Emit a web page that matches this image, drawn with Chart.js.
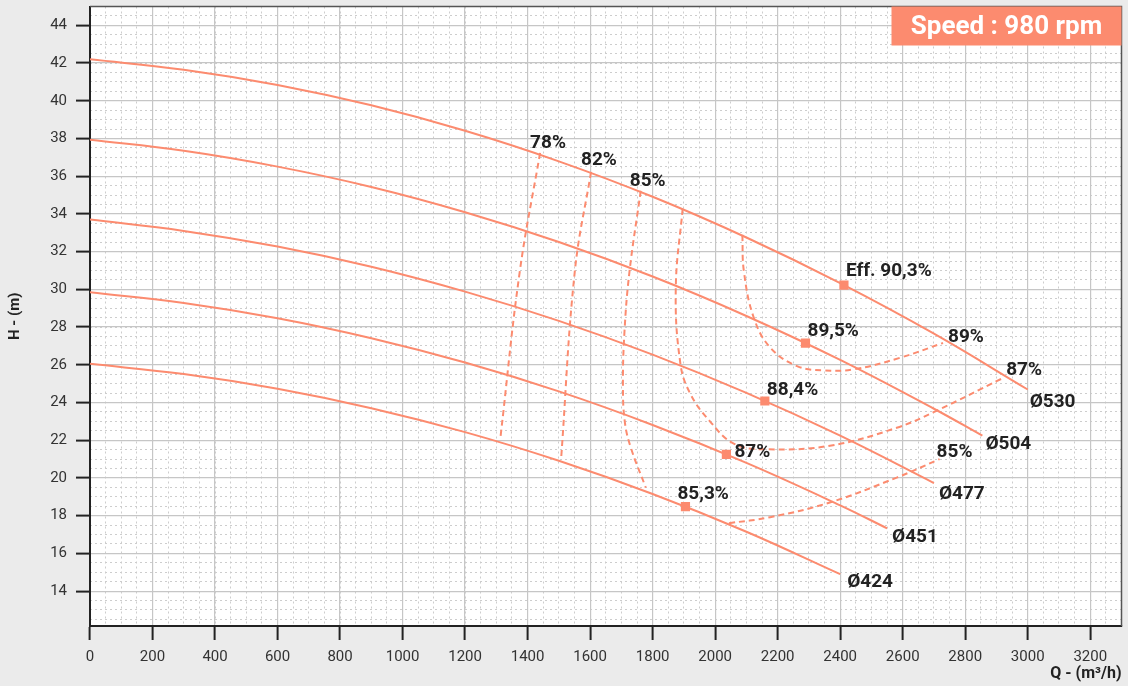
<!DOCTYPE html>
<html>
<head>
<meta charset="utf-8">
<script src="https://cdn.jsdelivr.net/npm/chart.js@4.4.1/dist/chart.umd.min.js"></script>
<style>
  html, body { margin: 0; padding: 0; background: #ebebeb; }
  #wrap { width: 1128px; height: 686px; }
</style>
</head>
<body>
<div id="wrap"><canvas id="pumpChart" width="1128" height="686"></canvas></div>
<script>
// H-Q curves, one per impeller diameter
const diameters = ['Ø530', 'Ø504', 'Ø477', 'Ø451', 'Ø424'];

const q530 = [0, 300, 600, 900, 1200, 1500, 1800, 2100, 2400, 2700, 3000];
const h530 = [42.2, 41.65, 40.84, 39.76, 38.41, 36.79, 34.91, 32.75, 30.33, 27.65, 24.69];

const q504 = [0, 300, 600, 900, 1200, 1500, 1800, 2100, 2400, 2700, 2855];
const h504 = [37.93, 37.35, 36.51, 35.43, 34.09, 32.51, 30.68, 28.59, 26.26, 23.67, 22.24];

const q477 = [0, 300, 600, 900, 1200, 1500, 1800, 2100, 2400, 2700];
const h477 = [33.7, 33.1, 32.27, 31.2, 29.88, 28.33, 26.54, 24.51, 22.24, 19.73];

const q451 = [0, 300, 600, 900, 1200, 1500, 1800, 2100, 2400, 2550];
const h451 = [29.85, 29.28, 28.47, 27.41, 26.12, 24.59, 22.81, 20.8, 18.55, 17.33];

const q424 = [0, 300, 600, 900, 1200, 1500, 1800, 2100, 2400];
const h424 = [26.05, 25.51, 24.73, 23.7, 22.43, 20.91, 19.15, 17.15, 14.9];

// best efficiency points
const effQ = [2412, 2289, 2159, 2036, 1905];
const effH = [30.23, 27.15, 24.08, 21.25, 18.48];
const effLabels = ['Eff. 90,3%', '89,5%', '88,4%', '87%', '85,3%'];

// iso-efficiency curves (dashed)
const isoLabels = ['78%', '82%', '85%', '87%', '89%', '85%'];
const iso78Q = [1440, 1375, 1313];
const iso78H = [37.24, 30.95, 22.13];
const iso82Q = [1603, 1551, 1507];
const iso82H = [36.23, 30.95, 20.97];
const iso85aQ = [1762, 1726, 1710, 1705, 1711, 1730, 1778];
const iso85aH = [35.23, 30.95, 27.78, 24.9, 22.98, 21.62, 19.49];
const iso87Q = [1896, 1874, 1889, 1921, 1982, 2061, 2166, 2367, 2581, 2708, 2915];
const iso87H = [34.28, 30.05, 26.04, 24.45, 23.03, 21.81, 21.52, 21.71, 22.66, 23.56, 25.25];
const iso89Q = [2087, 2092, 2124, 2177, 2262, 2347, 2443, 2591, 2729];
const iso89H = [32.89, 30.95, 28.48, 26.9, 25.93, 25.71, 25.76, 26.37, 27.16];
const iso85bQ = [2044, 2176, 2367, 2581, 2718];
const iso85bH = [17.6, 17.92, 18.7, 20.02, 21.0];

const speedLabel = 'Speed : 980 rpm';

const salmon = '#fc8b6f';
const textColor = '#222';

function pts(qs, hs) {
    return qs.map((q, i) => ({x: q, y: hs[i]}));
}

const hqCurves = [[q530, h530], [q504, h504], [q477, h477], [q451, h451], [q424, h424]];
const isoCurves = [[iso78Q, iso78H], [iso82Q, iso82H], [iso85aQ, iso85aH], [iso87Q, iso87H], [iso89Q, iso89H], [iso85bQ, iso85bH]];
// which end of each iso curve carries its label
const isoAnchor = ['first', 'first', 'first', 'last', 'last', 'last'];

const datasets = [];
hqCurves.forEach(c => {
    datasets.push({
        data: pts(c[0], c[1]), showLine: true, borderColor: salmon, borderWidth: 2,
        pointRadius: 0, tension: 0.4, fill: false
    });
});
isoCurves.forEach(c => {
    datasets.push({
        data: pts(c[0], c[1]), showLine: true, borderColor: salmon, borderWidth: 2,
        borderDash: [6, 4], pointRadius: 0, tension: 0.4, fill: false
    });
});
datasets.push({
    data: pts(effQ, effH), showLine: false, pointStyle: 'rect', pointRadius: 6.5,
    backgroundColor: salmon, borderColor: salmon, borderWidth: 0
});

// label offsets in px from their anchor point
const diaOffsets = [[2, 17], [3, 13], [5, 16], [5, 14], [7, 13]];
const effOffsets = [[2, -9], [2, -7], [2, -6], [8, 3], [-8, -8]];
const isoOffsets = [[-10, -5], [-10, -7], [-11, -5], [5, -4], [5, -1], [-3, -2]];

const decorPlugin = {
    id: 'decor',
    beforeDraw(chart) {
        const {ctx, chartArea: a} = chart;
        ctx.save();
        ctx.fillStyle = '#ebebeb';
        ctx.fillRect(0, 0, chart.width, chart.height);
        ctx.fillStyle = '#ffffff';
        ctx.fillRect(a.left, a.top, a.right - a.left, a.bottom - a.top);
        ctx.restore();
    },
    beforeDatasetsDraw(chart) {
        const {ctx, chartArea: a} = chart;
        ctx.save();
        ctx.strokeStyle = '#555';
        ctx.lineWidth = 1.5;
        ctx.beginPath();
        ctx.moveTo(a.left, a.top);
        ctx.lineTo(a.right, a.top);
        ctx.lineTo(a.right, a.bottom);
        ctx.stroke();
        ctx.restore();
    },
    afterDatasetsDraw(chart) {
        const {ctx, chartArea: a} = chart;
        const xs = chart.scales.x, ys = chart.scales.y;
        ctx.save();
        ctx.fillStyle = textColor;
        ctx.font = 'bold 19px Roboto';
        ctx.textAlign = 'left';
        ctx.textBaseline = 'alphabetic';

        hqCurves.forEach((c, i) => {
            const n = c[0].length - 1;
            const px = xs.getPixelForValue(c[0][n]);
            const py = ys.getPixelForValue(c[1][n]);
            ctx.fillText(diameters[i], px + diaOffsets[i][0], py + diaOffsets[i][1]);
        });
        effQ.forEach((q, i) => {
            const px = xs.getPixelForValue(q);
            const py = ys.getPixelForValue(effH[i]);
            ctx.fillText(effLabels[i], px + effOffsets[i][0], py + effOffsets[i][1]);
        });
        isoCurves.forEach((c, i) => {
            const k = isoAnchor[i] === 'first' ? 0 : c[0].length - 1;
            const px = xs.getPixelForValue(c[0][k]);
            const py = ys.getPixelForValue(c[1][k]);
            ctx.fillText(isoLabels[i], px + isoOffsets[i][0], py + isoOffsets[i][1]);
        });

        // speed badge
        const bw = 230, bh = 39;
        ctx.fillStyle = salmon;
        ctx.fillRect(a.right - bw, a.top, bw, bh);
        ctx.fillStyle = '#fff';
        ctx.font = 'bold 26px Roboto';
        ctx.textAlign = 'center';
        ctx.textBaseline = 'middle';
        ctx.fillText(speedLabel, a.right - bw / 2, a.top + bh / 2 + 1);
        ctx.restore();
    }
};

function noPad(s) {
    s.paddingTop = 0;
    s.paddingBottom = 0;
    s.paddingLeft = 0;
    s.paddingRight = 0;
}

new Chart(document.getElementById('pumpChart'), {
    type: 'scatter',
    data: {datasets: datasets},
    plugins: [decorPlugin],
    options: {
        responsive: false,
        maintainAspectRatio: false,
        animation: false,
        layout: {padding: {top: 5, right: 5, left: 0, bottom: 0}},
        plugins: {legend: {display: false}, tooltip: {enabled: false}},
        scales: {
            xMinor: {
                type: 'linear', position: 'bottom', min: 0, max: 3300,
                ticks: {display: false, stepSize: 50, includeBounds: false},
                grid: {color: '#cdcdcd', lineWidth: 1, drawTicks: false, z: -2},
                border: {display: false, dash: [2, 3]},
                afterFit: s => { s.height = 0; noPad(s); }
            },
            yMinor: {
                type: 'linear', position: 'left', min: 12.15, max: 45,
                ticks: {display: false, stepSize: 0.5, includeBounds: false},
                grid: {color: '#cdcdcd', lineWidth: 1, drawTicks: false, z: -2},
                border: {display: false, dash: [2, 3]},
                afterFit: s => { s.width = 0; noPad(s); }
            },
            x: {
                type: 'linear', position: 'bottom', min: 0, max: 3300,
                ticks: {stepSize: 200, includeBounds: false, padding: 8, color: '#333',
                    font: {family: 'Roboto', size: 15}, callback: v => String(v)},
                grid: {color: '#c6c6c6', lineWidth: 1.2, tickLength: 14, tickColor: '#222', tickWidth: 2, z: -1},
                border: {color: '#222', width: 2},
                title: {display: true, text: 'Q - (m³/h)', align: 'end', color: textColor,
                    font: {family: 'Roboto', size: 16, weight: 'bold'}, padding: {top: 0, bottom: 2}},
                afterFit: s => { s.height = 60; noPad(s); }
            },
            y: {
                type: 'linear', position: 'left', min: 12.15, max: 45,
                ticks: {stepSize: 2, includeBounds: false, padding: 9, color: '#333',
                    font: {family: 'Roboto', size: 15}, callback: v => String(v)},
                grid: {color: '#c6c6c6', lineWidth: 1.2, tickLength: 14, tickColor: '#222', tickWidth: 2, z: -1},
                border: {color: '#222', width: 2},
                title: {display: true, text: 'H - (m)', color: textColor,
                    font: {family: 'Roboto', size: 15, weight: 'bold'}, padding: {top: 6, bottom: 0}},
                afterFit: s => { s.width = 90; noPad(s); }
            }
        }
    }
});
</script>
</body>
</html>
